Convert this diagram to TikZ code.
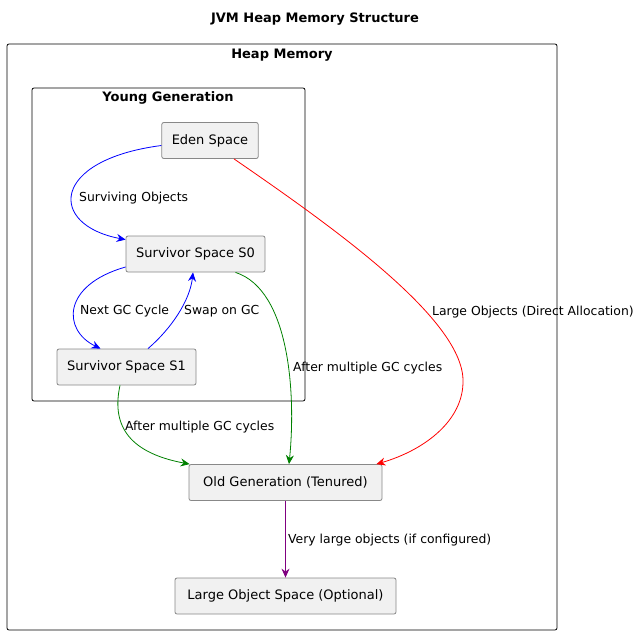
\documentclass[tikz,border=0pt]{standalone}
\usepackage{fontspec}
\setmainfont{DejaVu Sans}
\usepackage{tikz}
\usetikzlibrary{positioning,arrows.meta,calc}

\definecolor{boxfill}{HTML}{F1F1F1}
\definecolor{boxline}{HTML}{888888}
\definecolor{gcgreen}{HTML}{008000}
\definecolor{lopurple}{HTML}{800080}

\begin{document}
\begin{tikzpicture}[
  x=1pt, y=-1pt,
  font=\fontsize{13}{15}\selectfont,
  box/.style={draw=boxline, rounded corners=2pt, fill=boxfill, minimum height=36pt, inner xsep=10pt, align=center, line width=0.8pt},
  frame/.style={draw=black, rounded corners=2pt, line width=0.8pt},
  ttl/.style={font=\fontsize{13}{15}\selectfont\bfseries},
  lbl/.style={anchor=west, inner sep=0pt, font=\fontsize{12.4}{14}\selectfont},
  arr/.style={-{Stealth[length=9pt, width=8pt, inset=3pt]}, line width=0.8pt}
]
\useasboundingbox (0,0) rectangle (642,635);

% containers
\draw[frame] (7,44) rectangle (557,630);
\draw[frame] (32,88) rectangle (305,401);
\node[ttl] (title) at (315,19) {JVM Heap Memory Structure};
\node[ttl] (heap) at (282,55) {Heap Memory};
\node[ttl] (young) at (168,98) {Young Generation};

% spaces
\node[box, minimum width=96pt] (eden) at (210,140.5) {Eden Space};
\node[box, minimum width=139pt] (s0) at (195.5,254) {Survivor Space S0};
\node[box, minimum width=139pt] (s1) at (126.5,367) {Survivor Space S1};
\node[box, minimum width=193pt] (old) at (285.5,482.5) {Old Generation (Tenured)};
\node[box, minimum width=221pt] (lobj) at (285.5,596) {Large Object Space (Optional)};

% young generation moves
\draw[arr, blue] ([yshift=-5pt]eden.west) .. controls (50,160) and (48,225) .. ([yshift=-4pt]s0.north west);
\draw[arr, blue] ([yshift=-13pt]s0.west) .. controls (62,285) and (62,330) .. ([xshift=-26pt]s1.north);
\draw[arr, blue] ([xshift=21.5pt]s1.north) .. controls (172,328) and (190,300) .. ([xshift=-2.5pt]s0.south);

% promotion
\draw[arr, gcgreen] ([xshift=40pt]s0.south) .. controls (290,290) and (296,395) .. ([xshift=3.5pt]old.north);
\draw[arr, gcgreen] ([xshift=-6.5pt]s1.south) .. controls (112,422) and (125,452) .. ([xshift=1pt]old.north west);
\draw[arr, red] ([xshift=24pt]eden.south) .. controls (330,225) and (462,318) .. (463,380)
  .. controls (464,420) and (425,450) .. ([xshift=-6pt]old.north east);
\draw[arr, lopurple] (old.south) -- (lobj.north);

% edge labels
\node[lbl] (l1) at (79,198) {Surviving Objects};
\node[lbl] (l2) at (80,311) {Next GC Cycle};
\node[lbl] (l3) at (184,311) {Swap on GC};
\node[lbl] (l4) at (293,368) {After multiple GC cycles};
\node[lbl] (l5) at (125,427) {After multiple GC cycles};
\node[lbl] (l6) at (432,312) {Large Objects (Direct Allocation)};
\node[lbl] (l7) at (288,540) {Very large objects (if configured)};
\end{tikzpicture}
\end{document}
